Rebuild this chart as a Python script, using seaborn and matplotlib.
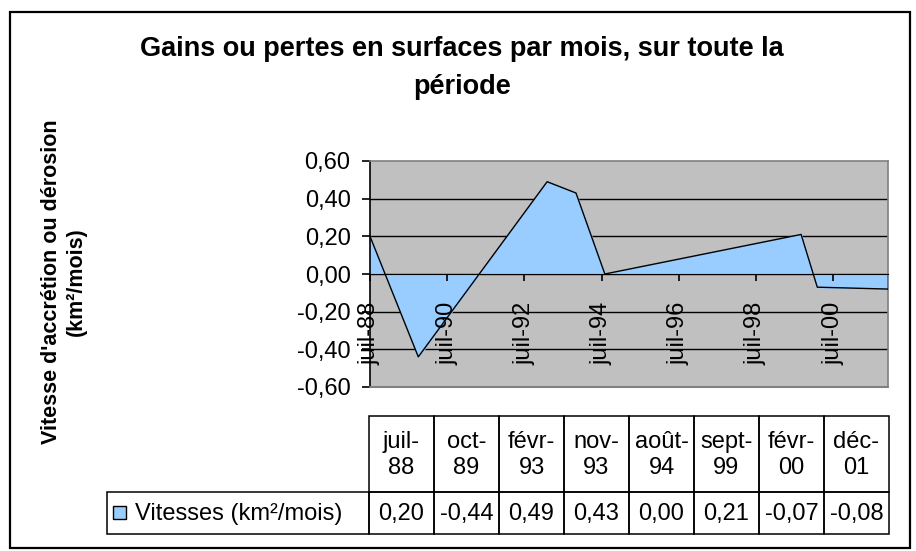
import matplotlib
matplotlib.use("Agg")
import matplotlib.pyplot as plt
import matplotlib.patches as mpatches
import numpy as np
import pandas as pd
import seaborn as sns

# Données
point_dates = ["1988-07-01", "1989-10-01", "1993-02-01", "1993-11-01",
               "1994-08-01", "1999-09-01", "2000-02-01", "2001-12-01"]
header_labels = ["juil-\n88", "oct-\n89", "févr-\n93", "nov-\n93",
                 "août-\n94", "sept-\n99", "févr-\n00", "déc-\n01"]
vitesses = [0.20, -0.44, 0.49, 0.43, 0.00, 0.21, -0.07, -0.08]
tick_dates = ["1988-07-01", "1990-07-01", "1992-07-01", "1994-07-01",
              "1996-07-01", "1998-07-01", "2000-07-01"]
tick_labels = ["juil-88", "juil-90", "juil-92", "juil-94",
               "juil-96", "juil-98", "juil-00"]
y_ticks = [-0.6, -0.4, -0.2, 0.0, 0.2, 0.4, 0.6]
series_name = "Vitesses (km²/mois)"

sns.set_style("white")
plt.rcParams['font.family'] = ['Liberation Sans', 'DejaVu Sans']
plt.rcParams['text.color'] = 'black'
plt.rcParams['xtick.color'] = 'black'
plt.rcParams['ytick.color'] = 'black'

W, H = 916, 551
fig = plt.figure(figsize=(W / 100, H / 100), dpi=100)

df = pd.DataFrame({"date": pd.to_datetime(point_dates), "vitesse": vitesses})

# zone du graphique (en pixels)
px_left, px_right, px_top, px_bottom = 370, 888, 161, 387
ax = fig.add_axes([px_left / W, 1 - px_bottom / H,
                   (px_right - px_left) / W, (px_bottom - px_top) / H])
ax.set_facecolor("#C0C0C0")

ax.fill_between(df["date"], df["vitesse"], 0, color="#99CCFF", zorder=2)
sns.lineplot(data=df, x="date", y="vitesse", color="black", linewidth=1.0,
             ax=ax, zorder=3)
ax.plot([df["date"].iloc[-1]] * 2, [0, df["vitesse"].iloc[-1]],
        color="black", linewidth=1.0, zorder=3)

for yv in y_ticks[1:-1]:
    ax.axhline(yv, color="black", linewidth=1.0, zorder=1)

ax.set_xlim(df["date"].iloc[0], df["date"].iloc[-1])
ax.set_ylim(y_ticks[0], y_ticks[-1])
ax.set_yticks(y_ticks)
ax.set_yticklabels([f"{v:.2f}".replace(".", ",") for v in y_ticks])
ax.set_xticks(pd.to_datetime(tick_dates))
ax.set_xticklabels(tick_labels)

ax.spines["bottom"].set_position(("data", 0))
ax.spines["bottom"].set_color("black")
ax.spines["bottom"].set_zorder(4)
ax.spines["left"].set_color("black")
ax.spines["left"].set_linewidth(1.2)
for s in ["top", "right"]:
    ax.spines[s].set_color("#808080")
    ax.spines[s].set_linewidth(1.2)
ax.axhline(y_ticks[0], color="#808080", linewidth=1.5, clip_on=False, zorder=4)

ax.tick_params(axis="y", direction="out", length=6, width=1.2, color="black",
               pad=8, labelsize=17, left=True)
ax.tick_params(axis="x", direction="out", length=5, width=1.2, color="black",
               pad=15, labelsize=17, bottom=True, labelrotation=90)
ax.xaxis.set_zorder(5)
ax.set_xlabel("")
ax.set_ylabel("")

# titre et titre de l'axe
fig.text(462 / W, 1 - 68 / H,
         "Gains ou pertes en surfaces par mois, sur toute la\npériode",
         ha="center", va="center", fontsize=19.5, fontweight="bold",
         linespacing=1.55)
fig.text(64 / W, 1 - 282 / H,
         "Vitesse d'accrétion ou dérosion\n(km²/mois)",
         ha="center", va="center", rotation=90, fontsize=15.5,
         fontweight="bold", linespacing=1.25)

# calque en pixels pour le cadre et la table de données
ov = fig.add_axes([0, 0, 1, 1], facecolor="none")
ov.set_xlim(0, W)
ov.set_ylim(H, 0)
ov.axis("off")

ov.add_patch(mpatches.Rectangle((10, 12), 900, 536, fill=False,
                                edgecolor="black", linewidth=1.6))

tab_x0, col_w = 369, 65
head_top, head_bot, row_bot = 416, 492, 534
label_x0 = 107
for i, (lab, v) in enumerate(zip(header_labels, vitesses)):
    x0 = tab_x0 + i * col_w
    ov.add_patch(mpatches.Rectangle((x0, head_top), col_w, head_bot - head_top,
                                    fill=False, edgecolor="black", linewidth=1.1))
    ov.add_patch(mpatches.Rectangle((x0, head_bot), col_w, row_bot - head_bot,
                                    fill=False, edgecolor="black", linewidth=1.1))
    ov.text(x0 + col_w / 2, (head_top + head_bot) / 2 + 1, lab, ha="center",
            va="center", fontsize=17, linespacing=1.2)
    ov.text(x0 + col_w / 2, (head_bot + row_bot) / 2 + 1,
            f"{v:.2f}".replace(".", ","), ha="center", va="center", fontsize=17)

ov.add_patch(mpatches.Rectangle((label_x0, head_bot), tab_x0 - label_x0,
                                row_bot - head_bot, fill=False,
                                edgecolor="black", linewidth=1.1))
ov.add_patch(mpatches.Rectangle((113, 506), 13, 13, facecolor="#99CCFF",
                                edgecolor="black", linewidth=1.0))
ov.text(135, (head_bot + row_bot) / 2 + 1, series_name, ha="left", va="center",
        fontsize=17)

fig.savefig("out.png", dpi=100)
